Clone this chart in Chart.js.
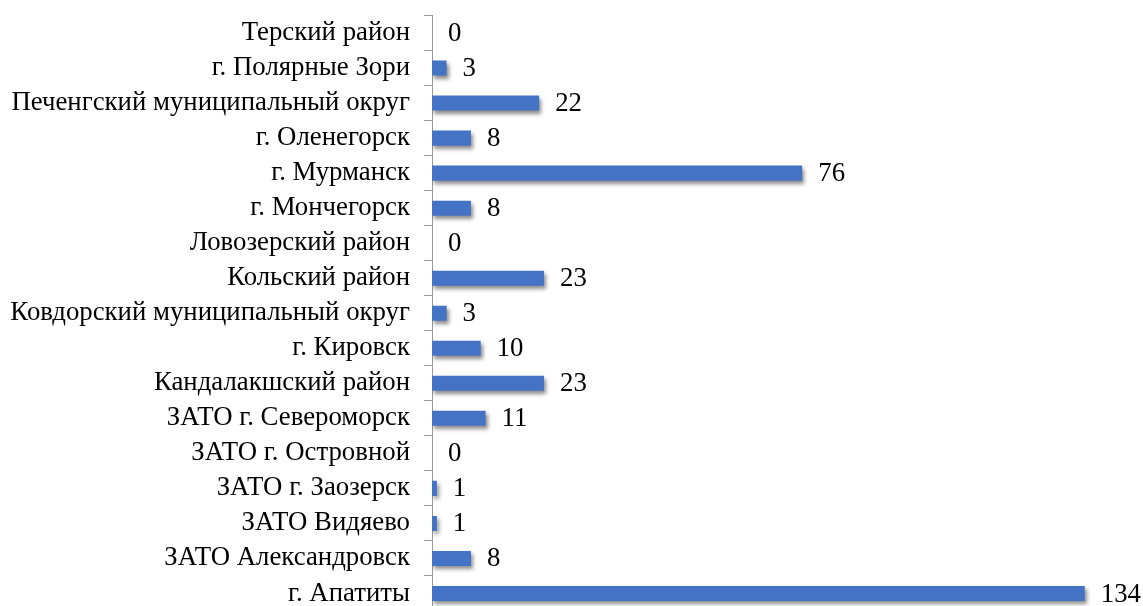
<!DOCTYPE html>
<html>
<head>
<meta charset="utf-8">
<script src="https://cdn.jsdelivr.net/npm/chart.js@4.4.1/dist/chart.umd.min.js"></script>
<style>
  html, body { margin: 0; padding: 0; background: #fff; overflow: hidden; }
  #wrap { position: relative; width: 1143px; height: 611px; }
</style>
</head>
<body>
<div id="wrap"><canvas id="barChart"></canvas></div>
<script>
const districts = [
    'Терский район',
    'г. Полярные Зори',
    'Печенгский муниципальный округ',
    'г. Оленегорск',
    'г. Мурманск',
    'г. Мончегорск',
    'Ловозерский район',
    'Кольский район',
    'Ковдорский муниципальный округ',
    'г. Кировск',
    'Кандалакшский район',
    'ЗАТО г. Североморск',
    'ЗАТО г. Островной',
    'ЗАТО г. Заозерск',
    'ЗАТО Видяево',
    'ЗАТО Александровск',
    'г. Апатиты'
];
const counts = [0, 3, 22, 8, 76, 8, 0, 23, 3, 10, 23, 11, 0, 1, 1, 8, 134];

const fontFamily = '"Liberation Serif", "Times New Roman", serif';
const fontSize = 26.8;

// shadow under the bars
const barShadow = {
    id: 'barShadow',
    beforeDatasetsDraw(chart) {
        const c = chart.ctx;
        c.save();
        c.shadowColor = 'rgba(0,0,0,0.45)';
        c.shadowBlur = 4;
        c.shadowOffsetX = 2;
        c.shadowOffsetY = 3;
    },
    afterDatasetsDraw(chart) {
        chart.ctx.restore();
    }
};

// value labels to the right of each bar
const valueLabels = {
    id: 'valueLabels',
    afterDatasetsDraw(chart) {
        const c = chart.ctx;
        const meta = chart.getDatasetMeta(0);
        c.save();
        c.font = fontSize + 'px ' + fontFamily;
        c.fillStyle = '#000';
        c.textAlign = 'left';
        c.textBaseline = 'middle';
        meta.data.forEach((bar, i) => {
            c.fillText(String(counts[i]), bar.x + 16, bar.y + 1);
        });
        c.restore();
    }
};

const ctx = document.getElementById('barChart').getContext('2d');

new Chart(ctx, {
    type: 'bar',
    data: {
        labels: districts,
        datasets: [{
            data: counts,
            backgroundColor: function (context) {
                const bar = context.element;
                if (!bar || bar.y === undefined) return '#4472c4';
                const h = 8;
                const g = context.chart.ctx.createLinearGradient(0, bar.y - h, 0, bar.y + h);
                g.addColorStop(0, '#5d8ad9');
                g.addColorStop(0.5, '#4675cf');
                g.addColorStop(1, '#3361c2');
                return g;
            },
            borderWidth: 0,
            barPercentage: 0.43,
            categoryPercentage: 1
        }]
    },
    options: {
        indexAxis: 'y',
        responsive: true,
        maintainAspectRatio: false,
        animation: false,
        layout: {
            padding: { top: 15.5, right: 29, bottom: 0, left: 0 }
        },
        scales: {
            x: {
                display: false,
                min: 0,
                max: 140
            },
            y: {
                afterFit: function (scale) {
                    scale.width = 432;
                    scale.paddingTop = 0;
                    scale.paddingBottom = 0;
                },
                border: {
                    display: true,
                    color: '#9a9a9a',
                    width: 1
                },
                grid: {
                    offset: true,
                    drawOnChartArea: false,
                    drawTicks: true,
                    tickLength: 8,
                    color: '#9a9a9a'
                },
                ticks: {
                    padding: 14,
                    color: '#000',
                    autoSkip: false,
                    font: { family: fontFamily, size: fontSize }
                }
            }
        },
        plugins: {
            legend: { display: false },
            tooltip: { enabled: false }
        }
    },
    plugins: [barShadow, valueLabels]
});
</script>
</body>
</html>
